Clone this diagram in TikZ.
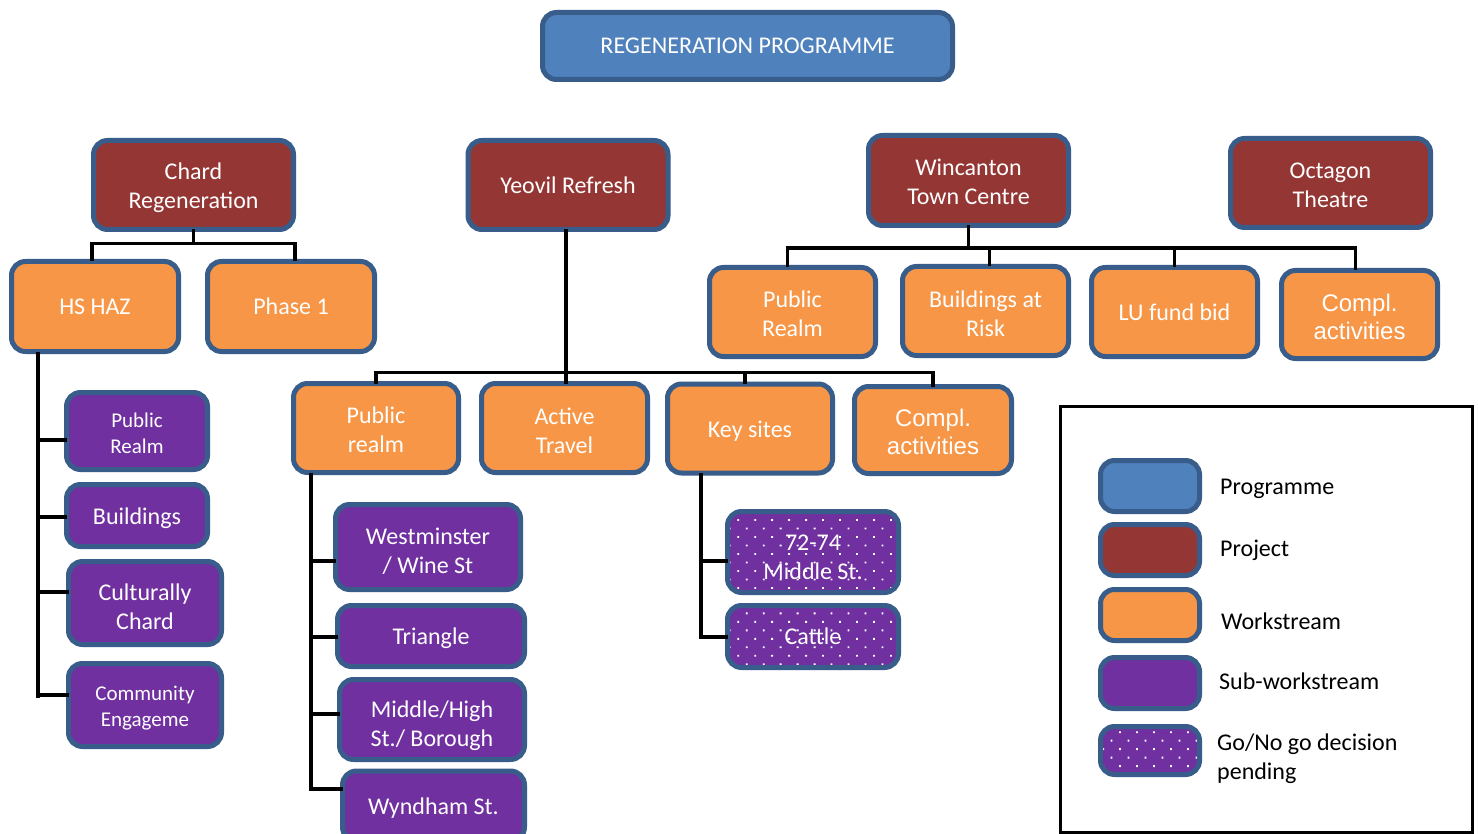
\documentclass[tikz,border=0pt]{standalone}
\usepackage{fontspec}
\setmainfont{Carlito}
\newfontfamily\arialf{Liberation Sans}
\usetikzlibrary{calc,patterns.meta}
\definecolor{progc}{HTML}{4F81BD}
\definecolor{projc}{HTML}{943634}
\definecolor{workc}{HTML}{F79646}
\definecolor{subc}{HTML}{7030A0}
\definecolor{bordc}{HTML}{385D8A}
\newcommand{\lowerby}[1]{\rule{0pt}{#1pt}}
\tikzset{
  box/.style={draw=bordc, line width=5pt, rounded corners=14pt, inner sep=0pt, outer sep=0pt,
    text=white, align=center, font=\fontsize{24}{29}\selectfont},
  progbox/.style={box, fill=progc},
  projbox/.style={box, fill=projc},
  workbox/.style={box, fill=workc},
  subbox/.style={box, fill=subc},
  gonobox/.style={box, preaction={fill=subc}, pattern={Dots[distance=12pt, radius=1.3pt, angle=45]}, pattern color=white},
  conn/.style={draw=black, line width=3.5pt},
  legtext/.style={text=black, inner sep=0pt, font=\fontsize{24}{29}\selectfont, align=left},
  smallfont/.style={font=\fontsize{21}{26}\selectfont},
  arialfont/.style={font=\arialf\fontsize{24}{28}\selectfont},
}
\begin{document}
\begin{tikzpicture}[x=1pt,y=-1pt]
\useasboundingbox (0,0) rectangle (1478,834);
\fill[white] (0,0) rectangle (1478,834);

% programme
\node[progbox, minimum width=410, minimum height=67] (prog) at (747.5,46) {REGENERATION PROGRAMME};

% projects
\node[projbox, minimum width=200, minimum height=89] (chard) at (193.5,185) {\lowerby{23}Chard\\Regeneration};
\node[projbox, minimum width=200, minimum height=89] (yeovil) at (568,185) {Yeovil Refresh};
\node[projbox, minimum width=200, minimum height=90] (winc) at (968.5,180.5) {\lowerby{19}Wincanton\\Town Centre};
\node[projbox, minimum width=200, minimum height=89] (oct) at (1330.5,183) {\lowerby{21}Octagon\\Theatre};

% workstreams
\node[workbox, minimum width=167, minimum height=90] (hshaz) at (95,306.5) {HS HAZ};
\node[workbox, minimum width=167, minimum height=90] (phase1) at (291,306.5) {Phase 1};

\node[workbox, minimum width=166, minimum height=89] (wpr) at (792.5,312) {\lowerby{21}Public\\Realm};
\node[workbox, minimum width=166, minimum height=89] (wbar) at (985.5,311) {\lowerby{23}Buildings at\\Risk};
\node[workbox, minimum width=166, minimum height=89] (wlu) at (1174.5,312) {LU fund bid};
\node[workbox, arialfont, minimum width=156, minimum height=88] (wcompl) at (1359.5,314.5) {\lowerby{22}Compl.\\activities};

\node[workbox, minimum width=165, minimum height=89] (ypr) at (376,428) {\lowerby{21}Public\\realm};
\node[workbox, minimum width=166, minimum height=89] (yat) at (564.5,428) {\lowerby{22}Active\\Travel};
\node[workbox, minimum width=165, minimum height=89] (yks) at (750,428.5) {\lowerby{22}Key sites};
\node[workbox, arialfont, minimum width=157, minimum height=87] (ycompl) at (933,430) {\lowerby{22}Compl.\\activities};

% sub-workstreams Chard
\node[subbox, smallfont, minimum width=141, minimum height=77] (cpr) at (137,431) {\lowerby{20}Public\\Realm};
\node[subbox, minimum width=141, minimum height=62] (cbuild) at (137,515.5) {\lowerby{22}Buildings};
\node[subbox, minimum width=153, minimum height=83] (ccult) at (145,603) {\lowerby{25}Culturally\\Chard};
\node[subbox, smallfont, minimum width=153, minimum height=83] (ccomm) at (145,705) {\lowerby{21}Community\\Engageme};

% sub-workstreams Yeovil
\node[subbox, minimum width=185, minimum height=85] (west) at (428,547) {\lowerby{25}Westminster\\/ Wine St};
\node[subbox, minimum width=187, minimum height=61] (tri) at (431,636) {\lowerby{22}Triangle};
\node[subbox, minimum width=185, minimum height=80] (mid) at (432,719.5) {\lowerby{29}Middle/High\\St./ Borough};
\node[subbox, minimum width=182, minimum height=70] (wynd) at (433.5,806) {\lowerby{21}Wyndham St.};

\node[gonobox, minimum width=171, minimum height=81] (k72) at (813,552) {\lowerby{27}72-74\\Middle St.};
\node[gonobox, minimum width=171, minimum height=62] (cattle) at (813,636.5) {Cattle};

% connectors Chard
\draw[conn] (chard.south) -- ++(0,14) coordinate (cb) -| ([xshift=-3pt]hshaz.north);
\draw[conn] (cb) -| ([xshift=4pt]phase1.north);
\coordinate (hx) at (38,0);
\coordinate (b1) at ($(cpr.west)+(0,9)$);
\coordinate (b2) at ($(cbuild.west)+(0,1.5)$);
\coordinate (b3) at ($(ccult.west)+(0,-11)$);
\coordinate (b4) at ($(ccomm.west)+(0,-10)$);
\draw[conn] (hshaz.south -| hx) -- ($(b4 -| hx)+(0,3)$);
\draw[conn] (b1 -| hx) -- (b1);
\draw[conn] (b2 -| hx) -- (b2);
\draw[conn] (b3 -| hx) -- (b3);
\draw[conn] (b4 -| hx) -- (b4);

% connectors Yeovil
\draw[conn] ([xshift=-2pt]yeovil.south) -- ([xshift=-2pt]yeovil.south |- yat.north);
\draw[conn] (ypr.north) -- ++(0,-11) -| (ycompl.north);
\draw[conn] ([xshift=-5pt]yks.north) -- ++(0,-11);
\coordinate (px) at (311,0);
\coordinate (p1) at ($(west.west)+(0,14)$);
\coordinate (p2) at ($(tri.west)+(0,1)$);
\coordinate (p3) at ($(mid.west)+(0,-5.5)$);
\coordinate (p4) at ($(wynd.west)+(0,-17)$);
\draw[conn] (ypr.south -| px) -- (p4 -| px) -- (p4);
\draw[conn] (p1 -| px) -- (p1);
\draw[conn] (p2 -| px) -- (p2);
\draw[conn] (p3 -| px) -- (p3);
\coordinate (kx) at (701,0);
\coordinate (k1) at ($(k72.west)+(0,9)$);
\coordinate (k2) at ($(cattle.west)+(0,0.5)$);
\draw[conn] (yks.south -| kx) -- (k2 -| kx) -- (k2);
\draw[conn] (k1 -| kx) -- (k1);

% connectors Wincanton
\coordinate (wbus) at (970,248);
\draw[conn] (winc.south) -- (winc.south |- wbus);
\draw[conn] ([xshift=-5pt]wpr.north) |- (wbus) -| ([xshift=-4pt]wcompl.north);
\draw[conn] ([xshift=4pt]wbar.north) -- ([xshift=4pt]wbar.north |- wbus);
\draw[conn] (wlu.north) -- (wlu.north |- wbus);

% legend
\draw[black, line width=3pt] (1060,406) rectangle (1472,832);
\node[progbox, minimum width=99, minimum height=51] (lprog) at (1150,486) {};
\node[projbox, minimum width=99, minimum height=51] (lproj) at (1150,550) {};
\node[workbox, minimum width=99, minimum height=51] (lwork) at (1150,615) {};
\node[subbox, minimum width=99, minimum height=51] (lsub) at (1150,683) {};
\node[gonobox, minimum width=99, minimum height=48] (lgo) at (1150,750.5) {};
\node[legtext, anchor=base west] (tprog) at (1220,494) {Programme};
\node[legtext, anchor=base west] (tproj) at (1220,556) {Project};
\node[legtext, anchor=base west] (twork) at (1221,629) {Workstream};
\node[legtext, anchor=base west] (tsub) at (1219,689) {Sub-workstream};
\node[legtext, anchor=west] (tgo) at (1217,759) {Go/No go decision\\pending};
\end{tikzpicture}
\end{document}
